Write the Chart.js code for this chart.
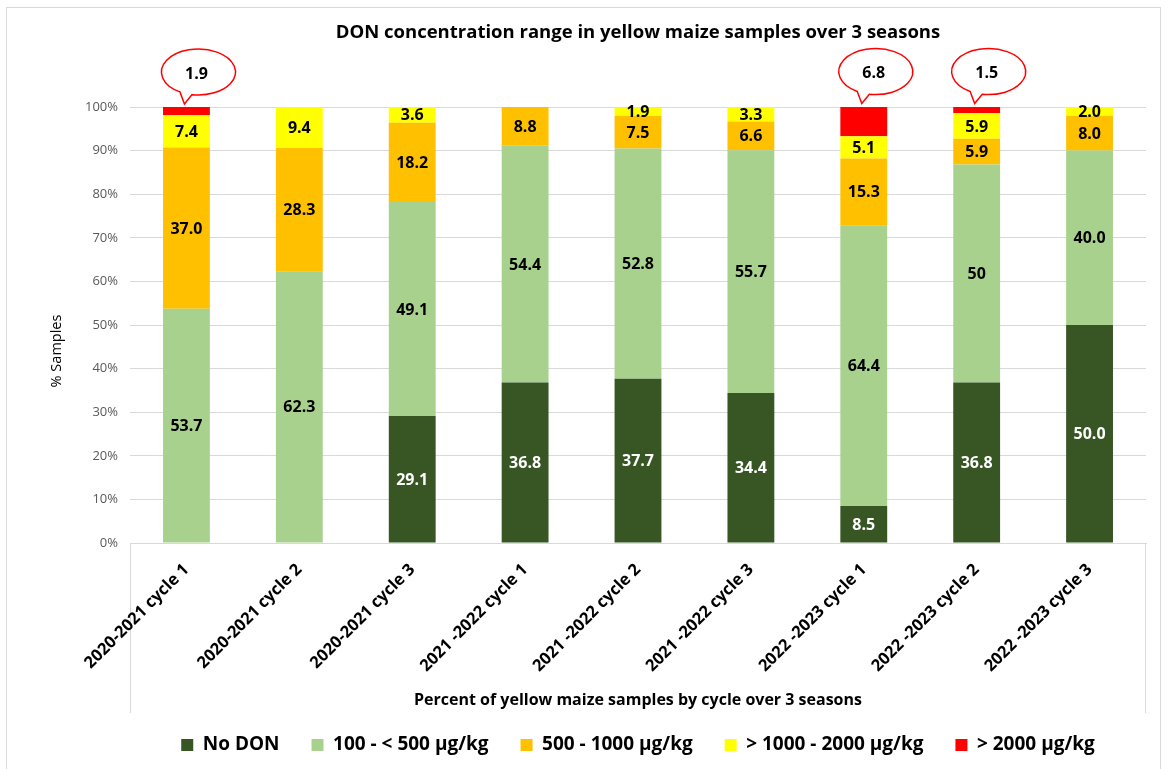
<!DOCTYPE html>
<html>
<head>
<meta charset="utf-8">
<script src="https://cdn.jsdelivr.net/npm/chart.js@4"></script>
<style>
  html, body { margin: 0; padding: 0; background: #fff; }
  #wrap { width: 1168px; height: 769px; position: relative; }
</style>
</head>
<body>
<div id="wrap"><canvas id="c"></canvas></div>
<script>
const categories = ['2020-2021 cycle 1', '2020-2021 cycle 2', '2020-2021 cycle 3',
  '2021 -2022 cycle 1', '2021 -2022 cycle 2', '2021 -2022 cycle 3',
  '2022 -2023 cycle 1', '2022 -2023 cycle 2', '2022 -2023 cycle 3'];
const seriesNames = ['No DON', '100 - < 500 µg/kg', '500 - 1000 µg/kg', '> 1000 - 2000 µg/kg', '> 2000 µg/kg'];
const noDon    = [0, 0, 29.1, 36.8, 37.7, 34.4, 8.5, 36.8, 50.0];
const low      = [53.7, 62.3, 49.1, 54.4, 52.8, 55.7, 64.4, 50, 40.0];
const mid      = [37.0, 28.3, 18.2, 8.8, 7.5, 6.6, 15.3, 5.9, 8.0];
const high     = [7.4, 9.4, 3.6, 0, 1.9, 3.3, 5.1, 5.9, 2.0];
const veryHigh = [1.9, 0, 0, 0, 0, 0, 6.8, 1.5, 0];
// points whose label is printed without a decimal: [seriesIndex, categoryIndex]
const plainLabels = [[1, 7]];
const yTicks = [0, 10, 20, 30, 40, 50, 60, 70, 80, 90, 100];
const yTitle = '% Samples';

const colors = ['#375623', '#a9d18e', '#ffc000', '#ffff00', '#ff0000'];
const FONT = "'Open Sans', 'DejaVu Sans', sans-serif";
const seriesData = [noDon, low, mid, high, veryHigh];

const datasets = seriesData.map((d, i) => ({
  label: seriesNames[i],
  data: d,
  backgroundColor: colors[i],
  borderWidth: 0,
  categoryPercentage: 1,
  barPercentage: 0.415
}));

const decor = {
  id: 'decor',
  beforeDraw(chart) {
    const ctx = chart.ctx, a = chart.chartArea;
    ctx.save();
    ctx.fillStyle = '#fff';
    ctx.fillRect(0, 0, chart.width, chart.height);
    ctx.strokeStyle = '#d9d9d9';
    ctx.lineWidth = 1;
    ctx.strokeRect(6.5, 7.5, 1154, 800);
    ctx.beginPath();
    const l = Math.round(a.left) + 0.5, r = Math.round(a.right) - 0.5;
    ctx.moveTo(l, a.bottom); ctx.lineTo(l, a.bottom + 170);
    ctx.moveTo(r, a.bottom); ctx.lineTo(r, a.bottom + 170);
    ctx.stroke();
    // y axis title
    ctx.translate(57, 351);
    ctx.rotate(-Math.PI / 2);
    ctx.font = '14.5px ' + FONT;
    ctx.fillStyle = '#000';
    ctx.textAlign = 'center';
    ctx.textBaseline = 'middle';
    ctx.fillText(yTitle, 0, 0);
    ctx.restore();
  },
  afterDatasetsDraw(chart) {
    const ctx = chart.ctx;
    ctx.save();
    ctx.font = 'bold 16px ' + FONT;
    ctx.textAlign = 'center';
    ctx.textBaseline = 'middle';
    for (let s = 0; s < 4; s++) {
      const meta = chart.getDatasetMeta(s);
      meta.data.forEach((el, i) => {
        const v = seriesData[s][i];
        if (!v) return;
        const plain = plainLabels.some(p => p[0] === s && p[1] === i);
        const txt = plain ? String(v) : v.toFixed(1);
        ctx.fillStyle = s === 0 ? '#ffffff' : '#000000';
        ctx.fillText(txt, el.x, (el.y + el.base) / 2 + 1);
      });
    }
    // callouts for > 2000
    const meta = chart.getDatasetMeta(4);
    meta.data.forEach((el, i) => {
      const v = seriesData[4][i];
      if (!v) return;
      const cx = el.x + 12, cy = el.y - 35, rx = 37, ry = 23;
      const tipX = el.x - 2, tipY = el.y - 3;
      const t1 = 120 * Math.PI / 180, t2 = (100 + 360) * Math.PI / 180;
      ctx.beginPath();
      ctx.ellipse(cx, cy, rx, ry, 0, t1, t2, false);
      ctx.lineTo(tipX, tipY);
      ctx.closePath();
      ctx.fillStyle = '#ffffff';
      ctx.fill();
      ctx.strokeStyle = '#ff0000';
      ctx.lineWidth = 1.5;
      ctx.stroke();
      ctx.fillStyle = '#000000';
      ctx.fillText(v.toFixed(1), cx - 2, cy + 2);
    });
    ctx.restore();
  }
};

new Chart(document.getElementById('c'), {
  type: 'bar',
  data: { labels: categories, datasets },
  plugins: [decor],
  options: {
    responsive: true,
    maintainAspectRatio: false,
    devicePixelRatio: 1,
    animation: false,
    layout: { padding: { left: 40, right: 22, top: 20, bottom: 4.5 } },
    plugins: {
      tooltip: { enabled: false },
      title: {
        display: true,
        fullSize: false,
        text: 'DON concentration range in yellow maize samples over 3 seasons',
        color: '#000',
        font: { family: FONT, size: 18.5, weight: 'bold' },
        padding: { top: 1.9, bottom: 62.9 }
      },
      legend: {
        position: 'bottom',
        fullSize: false,
        labels: {
          color: '#000',
          font: { family: FONT, size: 19, weight: 'bold' },
          boxWidth: 12,
          boxHeight: 12,
          padding: 32
        }
      }
    },
    scales: {
      x: {
        stacked: true,
        grid: { display: false },
        border: { display: true, color: '#d9d9d9' },
        ticks: {
          color: '#000',
          font: { family: FONT, size: 16.5, weight: 'bold' },
          minRotation: 45,
          maxRotation: 45,
          padding: 9
        },
        title: {
          display: true,
          text: 'Percent of yellow maize samples by cycle over 3 seasons',
          color: '#000',
          font: { family: FONT, size: 16, weight: 'bold' },
          padding: { top: 0, bottom: -6.5 }
        },
        afterFit(scale) { scale.height = 160.5; }
      },
      y: {
        stacked: true,
        min: 0,
        max: 100,
        afterBuildTicks(scale) { scale.ticks = yTicks.map(v => ({ value: v })); },
        grid: { color: '#d9d9d9', drawTicks: false },
        border: { display: false },
        ticks: {
          color: '#595959',
          font: { family: FONT, size: 13 },
          padding: 12,
          callback: v => v + '%'
        },
        afterFit(scale) { scale.width = 90; }
      }
    }
  }
});
</script>
</body>
</html>
